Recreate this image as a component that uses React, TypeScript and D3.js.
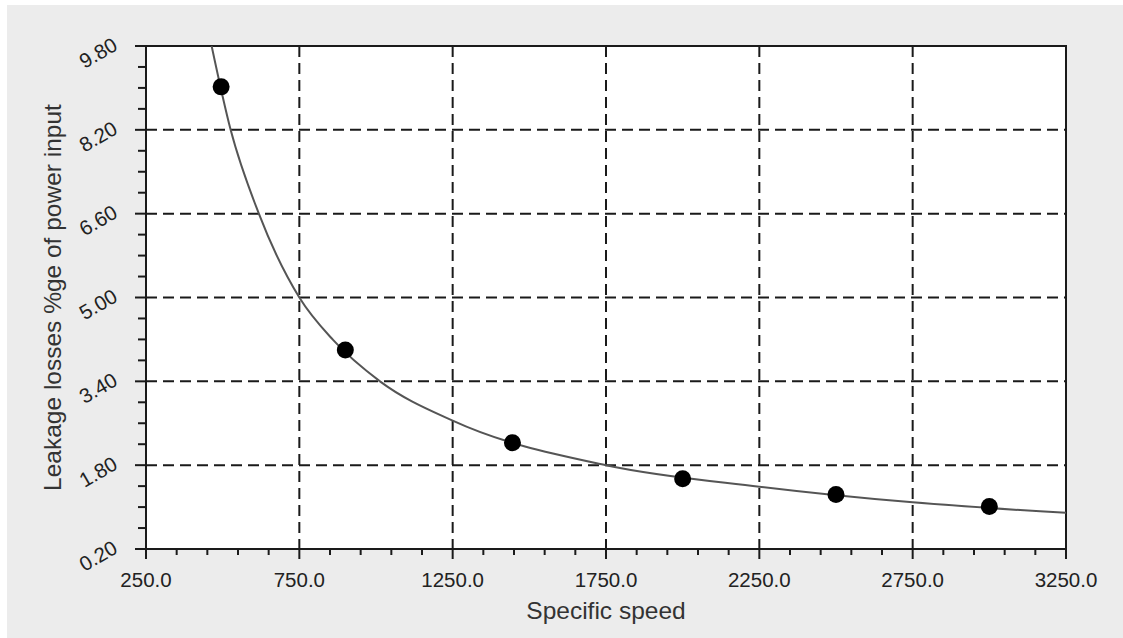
import * as d3 from 'd3'

const X_TICKS = [250, 750, 1250, 1750, 2250, 2750, 3250]
const Y_TICKS = [0.2, 1.8, 3.4, 5.0, 6.6, 8.2, 9.8]

// measured points
const speedPts = [495, 900, 1445, 2000, 2500, 3000]
const lossPts = [9.02, 4.0, 2.23, 1.54, 1.24, 1.01]

// fitted curve
const curveSpeed = [464, 526, 618, 750, 860, 1013, 1250, 1750, 2250, 2750, 3250]
const curveLoss = [9.8, 8.2, 6.6, 5.0, 4.19, 3.4, 2.65, 1.8, 1.39, 1.09, 0.89]

const W = 1123
const H = 638
const M = { left: 146, right: 1066, top: 46, bottom: 549 }
const FONT = '"Liberation Sans", Arial, Helvetica, sans-serif'

export default function App() {
  const x = d3.scaleLinear().domain([250, 3250]).range([M.left, M.right])
  const y = d3.scaleLinear().domain([0.2, 9.8]).range([M.bottom, M.top])

  const xMinor = d3.range(250, 3251, 100).filter((v) => (v - 250) % 500 !== 0)
  const yMinor = d3
    .range(0, 25)
    .map((i) => 0.2 + i * 0.4)
    .filter((_, i) => i % 4 !== 0)

  const curve = curveSpeed.map((s, i) => [s, curveLoss[i]] as [number, number])
  const line = d3
    .line<[number, number]>()
    .x((d) => x(d[0]))
    .y((d) => y(d[1]))
    .curve(d3.curveMonotoneX)

  const gridColor = '#1a1a1a'
  const axisColor = '#1a1a1a'

  return (
    <svg
      width={W}
      height={H}
      style={{ position: 'absolute', left: 0, top: 0, display: 'block' }}
      fontFamily={FONT}
    >
      <defs>
        <clipPath id="plot-clip">
          <rect x={M.left} y={M.top} width={M.right - M.left} height={M.bottom - M.top} />
        </clipPath>
      </defs>
      <rect x={7} y={5} width={W - 7} height={H - 5} fill="#ececec" />
      <rect x={M.left} y={M.top} width={M.right - M.left} height={M.bottom - M.top} fill="#fff" />

      {/* grid */}
      {X_TICKS.slice(1, -1).map((v) => (
        <line
          key={'gx' + v}
          x1={x(v)}
          x2={x(v)}
          y1={M.top}
          y2={M.bottom}
          stroke={gridColor}
          strokeWidth={2}
          strokeDasharray="11,6"
        />
      ))}
      {Y_TICKS.slice(1, -1).map((v) => (
        <line
          key={'gy' + v}
          x1={M.left}
          x2={M.right}
          y1={y(v)}
          y2={y(v)}
          stroke={gridColor}
          strokeWidth={2}
          strokeDasharray="11,6"
        />
      ))}

      {/* frame */}
      <rect
        x={M.left}
        y={M.top}
        width={M.right - M.left}
        height={M.bottom - M.top}
        fill="none"
        stroke={axisColor}
        strokeWidth={2}
      />

      {/* x ticks */}
      {X_TICKS.map((v) => (
        <line key={'xt' + v} x1={x(v)} x2={x(v)} y1={M.bottom} y2={M.bottom + 10} stroke={axisColor} strokeWidth={2} />
      ))}
      {xMinor.map((v) => (
        <line key={'xm' + v} x1={x(v)} x2={x(v)} y1={M.bottom} y2={M.bottom + 6} stroke={axisColor} strokeWidth={2} />
      ))}
      {X_TICKS.map((v) => (
        <text key={'xl' + v} x={x(v)} y={587} textAnchor="middle" fontSize={20.5} fill="#222">
          {v.toFixed(1)}
        </text>
      ))}

      {/* y ticks */}
      {Y_TICKS.map((v) => (
        <line key={'yt' + v} x1={M.left - 11} x2={M.left} y1={y(v)} y2={y(v)} stroke={axisColor} strokeWidth={2} />
      ))}
      {yMinor.map((v) => (
        <line key={'ym' + v} x1={M.left - 8} x2={M.left} y1={y(v)} y2={y(v)} stroke={axisColor} strokeWidth={2} />
      ))}
      {Y_TICKS.map((v) => (
        <text
          key={'yl' + v}
          transform={`translate(${M.left - 27},${y(v) + 3}) rotate(-30)`}
          textAnchor="end"
          fontSize={20.5}
          fill="#222"
        >
          {v.toFixed(2)}
        </text>
      ))}

      {/* curve + points */}
      <path
        d={line(curve) || ''}
        fill="none"
        stroke="#555"
        strokeWidth={2}
        clipPath="url(#plot-clip)"
      />
      {speedPts.map((s, i) => (
        <circle key={'p' + i} cx={x(s)} cy={y(lossPts[i])} r={8.5} fill="#000" />
      ))}

      {/* axis titles */}
      <text x={(M.left + M.right) / 2} y={619} textAnchor="middle" fontSize={24.5} fill="#333">
        Specific speed
      </text>
      <text
        transform={`translate(61,${(M.top + M.bottom) / 2}) rotate(-90)`}
        textAnchor="middle"
        fontSize={24.5}
        fill="#333"
      >
        Leakage losses %ge of power input
      </text>
    </svg>
  )
}
